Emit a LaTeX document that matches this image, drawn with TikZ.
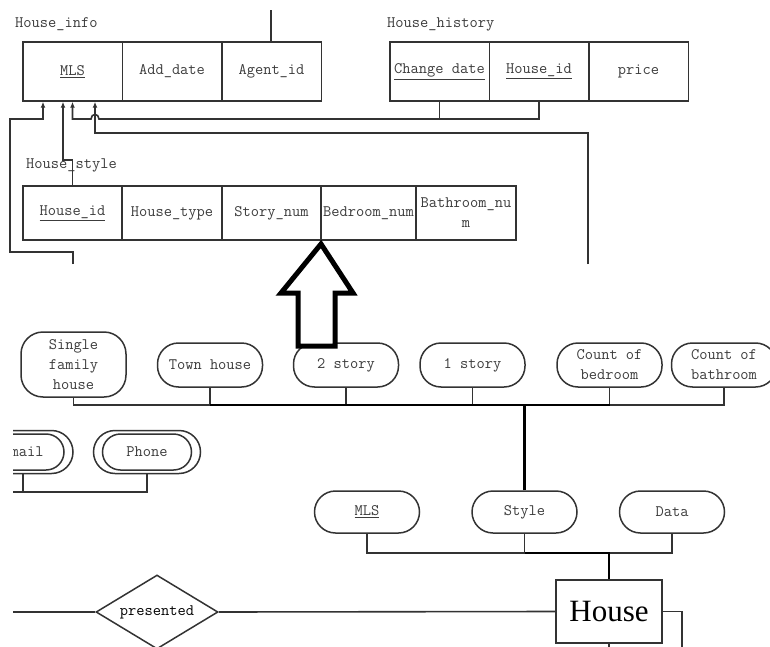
\documentclass[tikz,border=0pt]{standalone}
\usepackage{fontspec}
\setmainfont{Liberation Serif}
\usetikzlibrary{arrows.meta,shapes.geometric}
\definecolor{ln}{HTML}{333333}
\definecolor{tx}{HTML}{3C3C3C}
\tikzset{
  mono/.style={font=\ttfamily\fontsize{16}{20}\selectfont, text=tx},
  lbl/.style={mono, anchor=west, inner sep=0pt},
  hcell/.style={mono, draw=ln, line width=1.5pt, minimum height=59pt, minimum width=99.5pt, inner sep=0pt},
  scell/.style={mono, draw=ln, line width=1.5pt, minimum height=54pt, inner sep=0pt, align=center},
  pill/.style={mono, draw=ln, line width=1.5pt, rounded corners=21pt, minimum width=105pt, minimum height=44pt, inner sep=0pt, align=center},
  pilli/.style={mono, draw=ln, line width=1.5pt, rounded corners=18pt, minimum height=36pt, inner sep=0pt},
  pillo/.style={draw=ln, line width=1.5pt, rounded corners=21.5pt, minimum height=43pt, inner sep=0pt},
  conn/.style={draw=ln, line width=1.6pt},
  thk/.style={draw=black, line width=2.2pt},
  arr/.style={-{Latex[length=6pt,width=5pt]}},
}
\begin{document}
\begin{tikzpicture}[x=1pt,y=-1pt]
\useasboundingbox (0,0) rectangle (770,647);
\clip (0,0) rectangle (770,647);
\fill[white] (0,0) rectangle (770,647);

% ---------- House_info ----------
\node[lbl] (lInfo) at (15,24) {House\_info};
\node[hcell] (iMLS) at (72.5,71.5) {\underline{MLS}};
\node[hcell] (iAdd) at (172,71.5) {Add\_date};
\node[hcell] (iAg)  at (271.5,71.5) {Agent\_id};
\coordinate (agTop) at (271,10);
\draw[conn] (iAg.north -| agTop) -- (agTop);

% ---------- House_history ----------
\node[lbl] (lHist) at (387,24) {House\_history};
\node[hcell] (hCd)  at (439.5,71.5) {\underline{Change date}};
\node[hcell] (hHid) at (539,71.5) {\underline{House\_id}};
\node[hcell] (hPr)  at (638.5,71.5) {price};

% ---------- House_style ----------
\node[lbl] (lStyle) at (26,165) {House\_style};
\node[scell, minimum width=99pt] (sHid)  at (72.5,213) {\underline{House\_id}};
\node[scell, minimum width=100pt] (sType) at (172,213) {House\_type};
\node[scell, minimum width=99pt] (sStory) at (271.5,213) {Story\_num};
\node[scell, minimum width=95pt] (sBed) at (368.5,213) {Bedroom\_num};
\node[scell, minimum width=100pt] (sBath) at (466,213) {Bathroom\_nu\\m};

% ---------- foreign-key connectors ----------
\coordinate (hy) at (0,119);
\coordinate (cutA) at (73,264);
\coordinate (cutD) at (588,264);
\draw[conn,arr] (cutA) |- (10,252) |- (43,119) -- ([xshift=-29.5pt]iMLS.south);
\draw[conn,arr] (sHid.north) |- (63,160) -- ([xshift=-9.5pt]iMLS.south);
\draw[conn] (hCd.south) -- (hCd.south |- hy);
\draw[conn,arr] (hHid.south) -- (hHid.south |- hy) -- (99,119)
   .. controls (99,113) and (91,113) .. (91,119) -- (iMLS.south |- hy) -- (iMLS.south);
\draw[conn,arr] (cutD) |- (95,133) -- ([xshift=22.5pt]iMLS.south);

% ---------- ER attributes ----------
\node[pill, minimum height=65pt, rounded corners=22pt] (single) at (73.5,364.5) {Single\\family\\house};
\node[pill] (town) at (210,365) {Town house};
\node[pill] (two)  at (346,365) {2 story};
\node[pill] (one)  at (472.5,365) {1 story};
\node[pill] (bed)  at (609.5,365) {Count of\\bedroom};
\node[pill] (bath) at (724,365) {Count of\\bathroom};

% big hollow arrow
\draw[line width=5pt, line join=miter, fill=white]
  (321,244) -- (353,293) -- (335,293) -- (335,346) -- (298,346) -- (298,293) -- (281,293) -- cycle;

\coordinate (hb) at (0,405);
\draw[conn] (single.south) |- (bath.south |- hb) -- (bath.south);
\draw[conn] (town.south) -- (town.south |- hb);
\draw[conn] (two.south) -- (two.south |- hb);
\draw[conn] (one.south) -- (one.south |- hb);
\draw[conn] (bed.south) -- (bed.south |- hb);
\draw[thk] (town.south |- hb) -- (bed.south |- hb);

% ---------- Email / Phone ----------
\begin{scope}
\clip (13,420) rectangle (300,500);
\node[pilli, minimum width=82pt] (email) at (23,452) {\phantom{E}mail};
\node[pillo, minimum width=100pt] (emailo) at (email) {};
\end{scope}
\node[pilli, minimum width=89pt] (phone) at (147,452) {Phone};
\node[pillo, minimum width=107pt] (phoneo) at (phone) {};
\coordinate (ey) at (0,492);
\coordinate (eCut) at (13,492);
\draw[conn] (emailo.south) -- (emailo.south |- ey);
\draw[conn] (eCut) -- (phoneo.south |- ey) -- (phoneo.south);

% ---------- MLS / Style / Data ----------
\node[pill, minimum height=42pt] (mls)   at (367,512) {\underline{MLS}};
\node[pill, minimum height=42pt] (style) at (524.5,512) {Style};
\node[pill, minimum height=42pt] (data)  at (672,512) {Data};
\draw[thk] (style.north) -- (style.north |- hb);

\node[draw=ln, line width=1.6pt, minimum width=106pt, minimum height=63pt, inner sep=0pt,
      font=\rmfamily\fontsize{31}{31}\selectfont, text=black] (house) at (609,611.5) {House};
\coordinate (my) at (0,553);
\draw[conn] (mls.south) |- (data.south |- my) -- (data.south);
\draw[conn] (style.south) -- (style.south |- my);
\draw[thk] (style.south |- my) -- (house.north |- my) -- (house.north);

% ---------- relationship ----------
\node[diamond, draw=ln, line width=1.5pt, aspect=1.65, minimum width=122pt, minimum height=74pt,
      inner sep=0pt, mono, text=black] (pres) at (157,612) {presented};
\coordinate (pCut) at (13,612);
\coordinate (hR) at (682,647);
\coordinate (hB) at (609,647);
\draw[conn] (house.west) -- (pres.east);
\draw[conn] (pres.west) -- (pCut);
\draw[conn] (house.east) -| (hR);
\draw[conn] (house.south) -- (hB);
\end{tikzpicture}
\end{document}
